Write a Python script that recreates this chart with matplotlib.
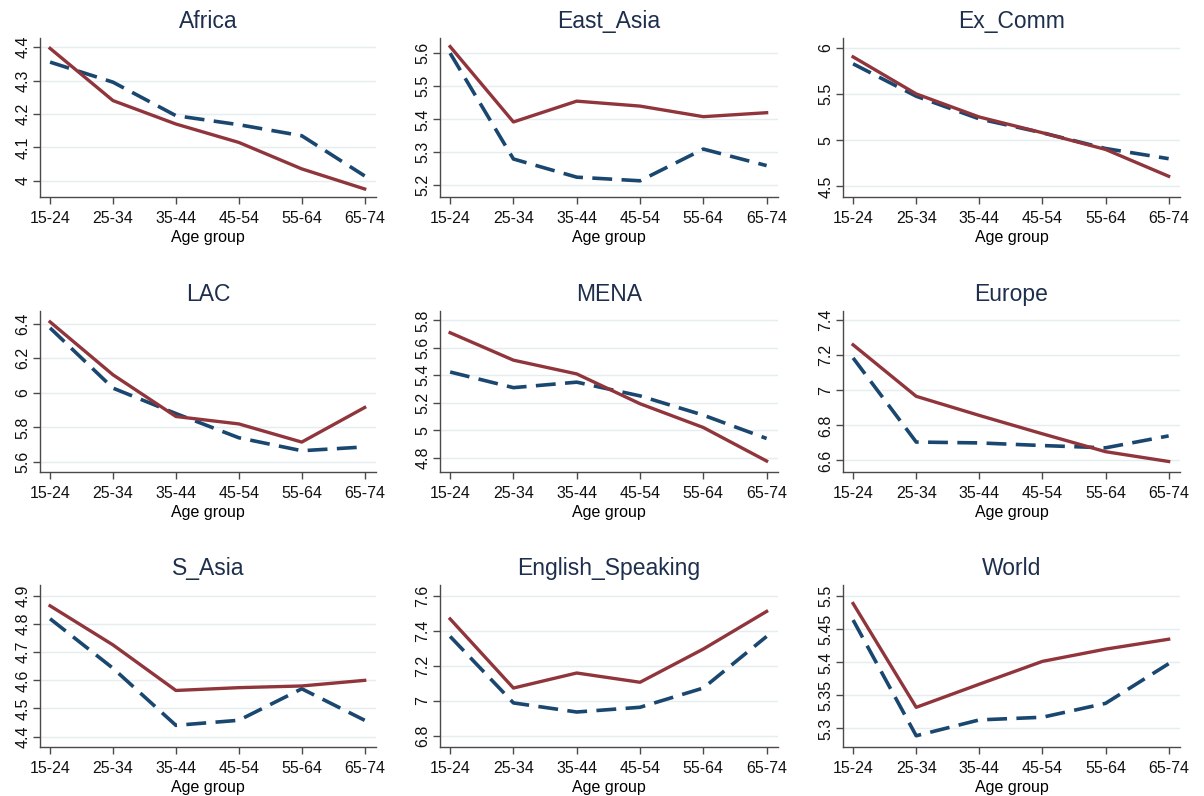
import matplotlib
matplotlib.use("Agg")
import matplotlib.pyplot as plt

plt.rcParams['font.family'] = ['Liberation Sans', 'DejaVu Sans']

age_groups = ["15-24", "25-34", "35-44", "45-54", "55-64", "65-74"]

regions = ["Africa", "East_Asia", "Ex_Comm", "LAC", "MENA", "Europe",
           "S_Asia", "English_Speaking", "World"]

solid = {
    "Africa":           [4.396, 4.240, 4.170, 4.115, 4.036, 3.976],
    "East_Asia":        [5.620, 5.392, 5.455, 5.440, 5.408, 5.420],
    "Ex_Comm":          [5.900, 5.500, 5.250, 5.080, 4.900, 4.610],
    "LAC":              [6.410, 6.104, 5.863, 5.820, 5.715, 5.915],
    "MENA":             [5.710, 5.510, 5.410, 5.193, 5.020, 4.776],
    "Europe":           [7.260, 6.966, 6.857, 6.752, 6.650, 6.594],
    "S_Asia":           [4.865, 4.726, 4.564, 4.574, 4.580, 4.600],
    "English_Speaking": [7.467, 7.072, 7.158, 7.105, 7.295, 7.510],
    "World":            [5.489, 5.332, 5.367, 5.4015, 5.420, 5.435],
}

dashed = {
    "Africa":           [4.355, 4.295, 4.195, 4.168, 4.135, 4.015],
    "East_Asia":        [5.600, 5.280, 5.225, 5.214, 5.310, 5.260],
    "Ex_Comm":          [5.825, 5.475, 5.230, 5.080, 4.910, 4.800],
    "LAC":              [6.375, 6.027, 5.880, 5.740, 5.665, 5.687],
    "MENA":             [5.424, 5.310, 5.350, 5.250, 5.110, 4.940],
    "Europe":           [7.185, 6.705, 6.700, 6.685, 6.672, 6.740],
    "S_Asia":           [4.819, 4.643, 4.440, 4.458, 4.570, 4.458],
    "English_Speaking": [7.367, 6.987, 6.935, 6.962, 7.072, 7.367],
    "World":            [5.464, 5.289, 5.313, 5.317, 5.338, 5.398],
}

yticks = {
    "Africa":           [4.0, 4.1, 4.2, 4.3, 4.4],
    "East_Asia":        [5.2, 5.3, 5.4, 5.5, 5.6],
    "Ex_Comm":          [4.5, 5.0, 5.5, 6.0],
    "LAC":              [5.6, 5.8, 6.0, 6.2, 6.4],
    "MENA":             [4.8, 5.0, 5.2, 5.4, 5.6, 5.8],
    "Europe":           [6.6, 6.8, 7.0, 7.2, 7.4],
    "S_Asia":           [4.4, 4.5, 4.6, 4.7, 4.8, 4.9],
    "English_Speaking": [6.8, 7.0, 7.2, 7.4, 7.6],
    "World":            [5.30, 5.35, 5.40, 5.45, 5.50],
}

ytick_labels = {
    "Africa":           ["4", "4.1", "4.2", "4.3", "4.4"],
    "East_Asia":        ["5.2", "5.3", "5.4", "5.5", "5.6"],
    "Ex_Comm":          ["4.5", "5", "5.5", "6"],
    "LAC":              ["5.6", "5.8", "6", "6.2", "6.4"],
    "MENA":             ["4.8", "5", "5.2", "5.4", "5.6", "5.8"],
    "Europe":           ["6.6", "6.8", "7", "7.2", "7.4"],
    "S_Asia":           ["4.4", "4.5", "4.6", "4.7", "4.8", "4.9"],
    "English_Speaking": ["6.8", "7", "7.2", "7.4", "7.6"],
    "World":            ["5.3", "5.35", "5.4", "5.45", "5.5"],
}

ylims = {
    "Africa":           (3.952, 4.427),
    "East_Asia":        (5.165, 5.646),
    "Ex_Comm":          (4.386, 6.104),
    "LAC":              (5.542, 6.473),
    "MENA":             (4.696, 5.868),
    "Europe":           (6.534, 7.453),
    "S_Asia":           (4.363, 4.939),
    "English_Speaking": (6.735, 7.661),
    "World":            (5.272, 5.517),
}

W, H = 1204, 796
fig = plt.figure(figsize=(W / 100, H / 100), dpi=100)
fig.patch.set_facecolor("white")

col_lr = [(40, 376), (440, 778), (843, 1180)]
row_tb = [(38, 197), (311, 472), (585, 747)]

RED = "#90353B"
NAVY = "#1A476F"
TITLE = "#1E2F4D"
GRID = "#E4EDEF"
SPINE = "#4A4A4A"

x = list(range(len(age_groups)))

for i, reg in enumerate(regions):
    r, c = divmod(i, 3)
    l, rr = col_lr[c]
    t, b = row_tb[r]
    ax = fig.add_axes([l / W, 1 - b / H, (rr - l) / W, (b - t) / H])
    ax.set_facecolor("white")
    for tk in yticks[reg]:
        ax.axhline(tk, color=GRID, lw=1.0, zorder=0)
    ax.plot(x, dashed[reg], color=NAVY, lw=2.6, dashes=(5.5, 2.6),
            solid_capstyle="butt", zorder=2)
    ax.plot(x, solid[reg], color=RED, lw=2.4, zorder=3)
    ax.set_xlim(-0.16, 5.18)
    ax.set_ylim(*ylims[reg])
    ax.set_xticks(x)
    ax.set_xticklabels(age_groups, fontsize=11.5)
    ax.set_yticks(yticks[reg])
    ax.set_yticklabels(ytick_labels[reg], fontsize=11.5, rotation=90,
                       va="center")
    ax.set_xlabel("Age group", fontsize=11.5, labelpad=3)
    ax.set_title(reg, fontsize=16.5, color=TITLE, pad=7)
    for s in ["top", "right"]:
        ax.spines[s].set_visible(False)
    for s in ["left", "bottom"]:
        ax.spines[s].set_color(SPINE)
        ax.spines[s].set_linewidth(1.0)
    ax.tick_params(axis="x", direction="out", length=5, width=1.0,
                   color=SPINE, pad=5, labelcolor="#111111")
    ax.tick_params(axis="y", direction="out", length=5, width=1.0,
                   color=SPINE, pad=2, labelcolor="#111111")

fig.savefig("out.png", dpi=100, facecolor="white")
